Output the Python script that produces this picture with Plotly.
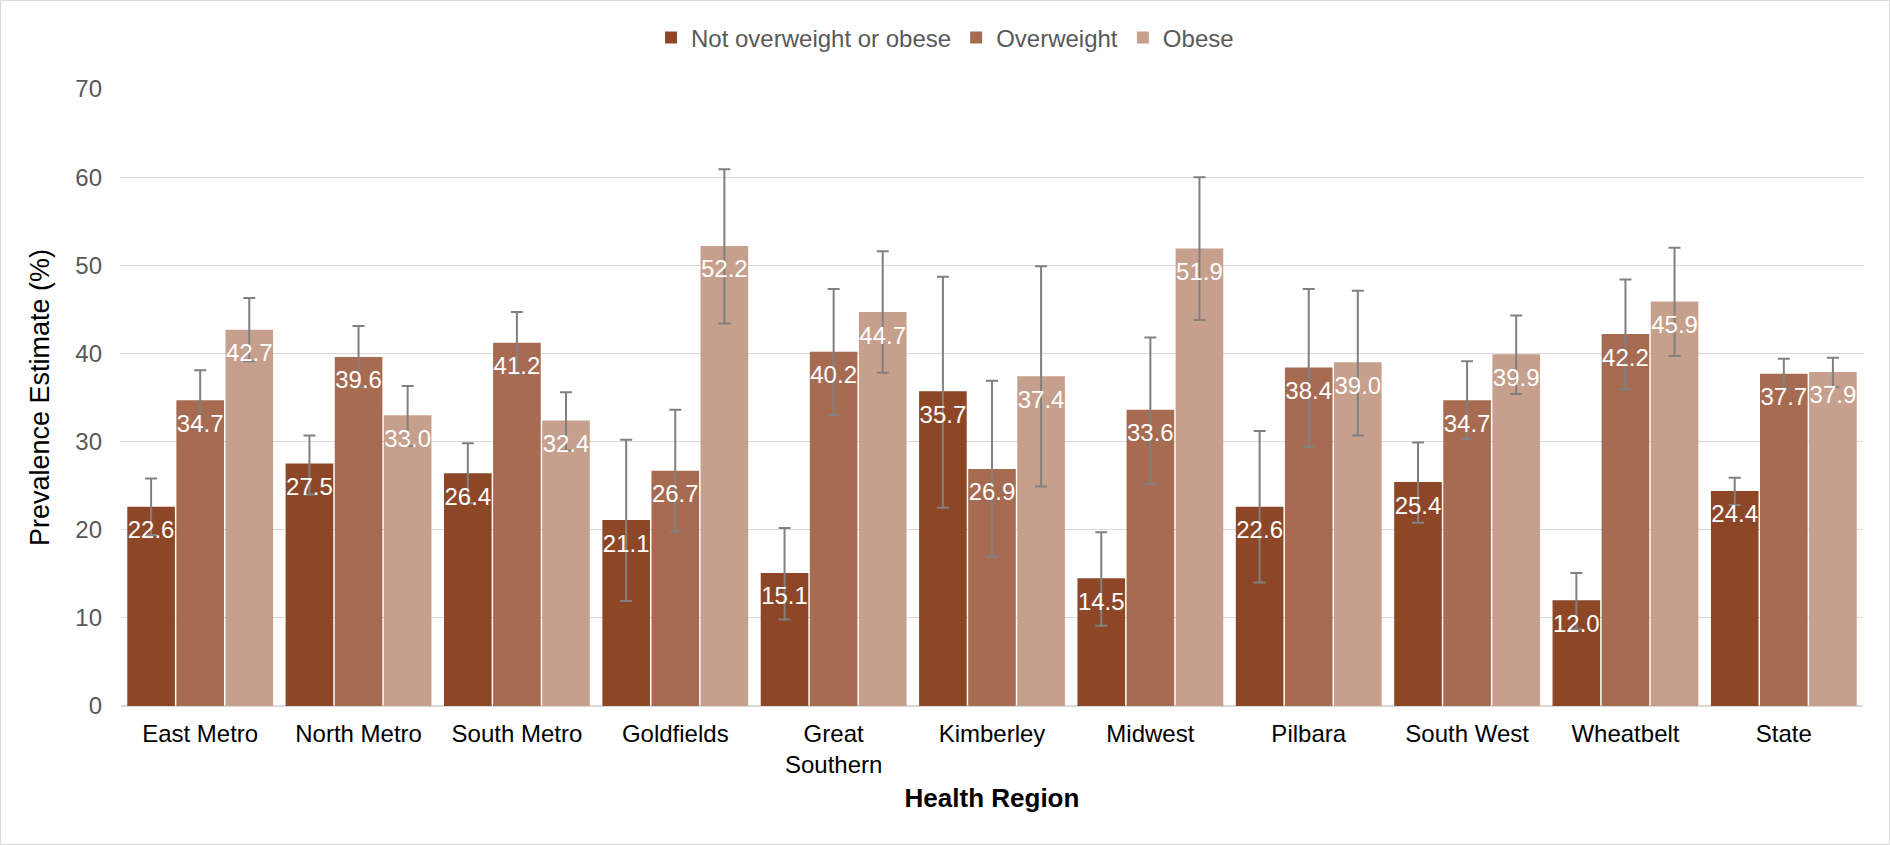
import plotly.graph_objects as go

# Health regions (x categories)
regions = ["East Metro", "North Metro", "South Metro", "Goldfields", "Great<br>Southern",
           "Kimberley", "Midwest", "Pilbara", "South West", "Wheatbelt", "State"]

# Prevalence estimates (%) with 95% confidence interval bounds
not_ow = [22.6, 27.5, 26.4, 21.1, 15.1, 35.7, 14.5, 22.6, 25.4, 12.0, 24.4]
not_ow_lo = [19.4, 24.0, 23.0, 11.9, 9.8, 22.5, 9.1, 14.0, 20.8, 8.7, 22.8]
not_ow_hi = [25.8, 30.7, 29.8, 30.2, 20.2, 48.7, 19.7, 31.2, 29.9, 15.1, 25.9]

ow = [34.7, 39.6, 41.2, 26.7, 40.2, 26.9, 33.6, 38.4, 34.7, 42.2, 37.7]
ow_lo = [31.5, 36.2, 37.7, 19.8, 33.0, 16.9, 25.2, 29.4, 30.3, 35.9, 36.0]
ow_hi = [38.1, 43.1, 44.7, 33.6, 47.3, 36.9, 41.8, 47.3, 39.1, 48.4, 39.4]

obese = [42.7, 33.0, 32.4, 52.2, 44.7, 37.4, 51.9, 39.0, 39.9, 45.9, 37.9]
obese_lo = [39.1, 29.5, 29.0, 43.4, 37.8, 24.9, 43.8, 30.7, 35.4, 39.7, 36.2]
obese_hi = [46.3, 36.3, 35.6, 60.9, 51.6, 49.9, 60.0, 47.1, 44.3, 52.0, 39.5]

series = [
    ("Not overweight or obese", not_ow, not_ow_lo, not_ow_hi, "#8D4727", "g1"),
    ("Overweight", ow, ow_lo, ow_hi, "#A66B51", "g2"),
    ("Obese", obese, obese_lo, obese_hi, "#C7A08D", "g3"),
]

FONT = "Liberation Sans, Arial, sans-serif"
W, H = 1890, 845
ML, MR, MT, MB = 121, 27, 89, 139

fig = go.Figure()
for name, vals, lo, hi, color, grp in series:
    fig.add_trace(go.Bar(
        name=name, x=regions, y=vals, offsetgroup=grp,
        marker=dict(color=color, line=dict(width=0)),
        error_y=dict(type="data", symmetric=False,
                     array=[h - v for v, h in zip(vals, hi)],
                     arrayminus=[v - l for v, l in zip(vals, lo)],
                     color="#808080", thickness=2, width=6),
        hoverinfo="skip",
    ))

# value labels just below each bar top
for name, vals, lo, hi, color, grp in series:
    fig.add_trace(go.Scatter(
        x=regions, y=vals, offsetgroup=grp, mode="markers+text",
        text=[f"{v:.1f}" for v in vals], textposition="bottom center",
        textfont=dict(family=FONT, size=24, color="white"),
        marker=dict(size=20, opacity=0),
        showlegend=False, hoverinfo="skip",
    ))

pw = W - ML - MR
ph = H - MT - MB

fig.update_layout(
    width=W, height=H,
    margin=dict(l=ML, r=MR, t=MT, b=MB, autoexpand=False),
    paper_bgcolor="white", plot_bgcolor="white",
    barmode="group", bargap=0.07, bargroupgap=0.03,
    scattermode="group", scattergap=0.07,
    font=dict(family=FONT, size=24, color="#595959"),
    legend=dict(orientation="h", xref="container", yref="container",
                x=0.5, xanchor="center", y=1 - 38 / H, yanchor="middle",
                font=dict(family=FONT, size=24, color="#595959"),
                traceorder="normal"),
    xaxis=dict(
        title=dict(text="<b>Health Region</b>", font=dict(family=FONT, size=26, color="#000000"),
                   standoff=11),
        tickfont=dict(family=FONT, size=24, color="#000000"),
        showgrid=False, showline=False, ticks="", ticklabelstandoff=11, automargin=False,
    ),
    yaxis=dict(
        title=dict(text="Prevalence Estimate (%)", font=dict(family=FONT, size=27, color="#000000"),
                   standoff=17),
        range=[0, 70], dtick=10, tickfont=dict(family=FONT, size=24, color="#595959"),
        showgrid=True, gridcolor="#D9D9D9", gridwidth=1,
        zeroline=True, zerolinecolor="#D9D9D9", zerolinewidth=2,
        ticks="", ticklabelstandoff=18, automargin=False,
    ),
    shapes=[dict(type="rect", xref="paper", yref="paper",
                 x0=-(ML - 0.5) / pw, x1=1 + (MR - 0.5) / pw,
                 y0=-(MB - 0.5) / ph, y1=1 + (MT - 0.5) / ph,
                 line=dict(color="#D9D9D9", width=1), fillcolor="rgba(0,0,0,0)", layer="below")],
)

fig.write_html("out.html")
